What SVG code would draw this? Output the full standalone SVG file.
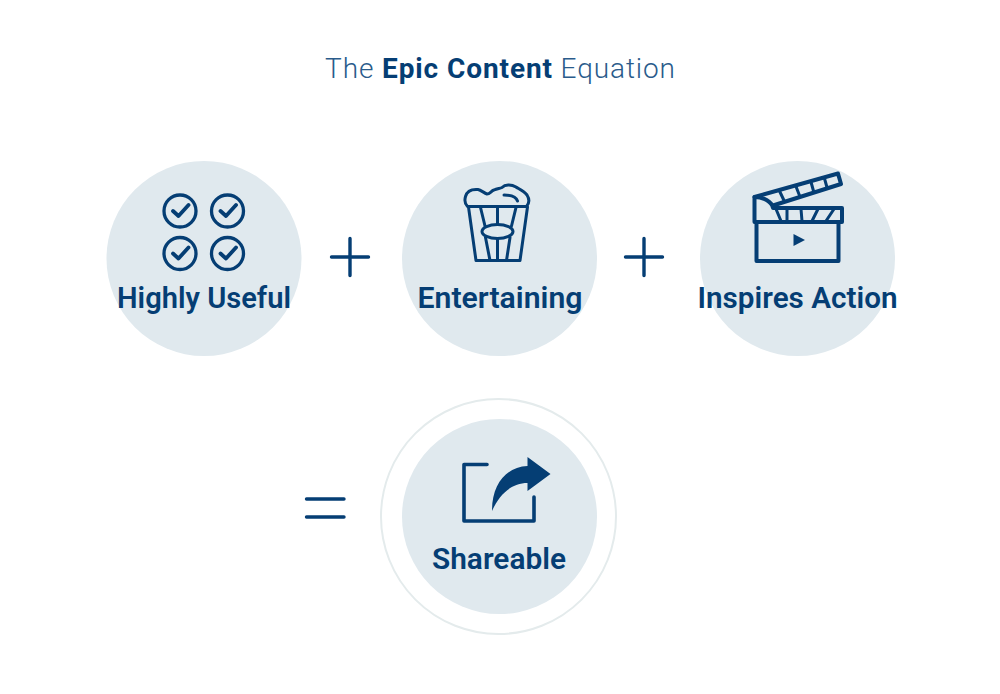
<svg xmlns="http://www.w3.org/2000/svg" width="1000" height="694" viewBox="0 0 1000 694">
<style>
.c{fill:#e0e9ee}
.l{fill:none;stroke:#053e74;stroke-linecap:round;stroke-linejoin:round}
.t{font-family:Roboto,"Liberation Sans",sans-serif;fill:#053e74;font-weight:600;font-size:29px;text-anchor:middle}
</style>
<rect width="1000" height="694" fill="#fff"/>
<text id="title" x="500" y="78" font-family="Roboto,'Liberation Sans',sans-serif" font-size="28" fill="#2a5b8b" font-weight="300" text-anchor="middle" textLength="350" lengthAdjust="spacing">The <tspan font-weight="700" fill="#053e74">Epic Content</tspan> Equation</text>
<g id="useful">
<circle class="c" cx="204" cy="258.500" r="97.500"/>
<g class="l" stroke-width="3.300">
<circle cx="180" cy="211" r="16"/><circle cx="227.500" cy="211" r="16"/><circle cx="180" cy="253.500" r="16"/><circle cx="227.500" cy="253.500" r="16"/>
<path stroke-width="3.800" d="M173 211l5.500 5 10-11M220.500 211l5.500 5 10-11M173 253.500l5.500 5 10-11M220.500 253.500l5.500 5 10-11"/>
</g>
<text class="t" x="204" y="308" textLength="174" lengthAdjust="spacingAndGlyphs">Highly Useful</text>
</g>
<g id="entertaining">
<circle class="c" cx="499.500" cy="258.500" r="97.500"/>
<g class="l" stroke-width="3">
<path d="M467.500 206.500C465 204 464.500 200 465.500 196.500C467 191 472 189 478 189.500C481 190 484 193 487 194C490 194 491 191 494 190C497 188.500 500 188.500 502 187.500C505 184.500 511 184 516 187C518 188.500 524 191 527 195C529.500 199 529.500 203 526.500 206.500Z"/>
<path d="M504 195C509 195 516 196 517.500 201"/>
<path d="M468.500 207L476 260.500H520L527.500 207"/>
<path d="M480.500 207.500L485 226M497.500 207.500V224.500M516 207.500L511.500 226M485.500 237.500L490 260.500M497.500 238.500V260.500M510 237.500L506.500 260.500"/>
<ellipse cx="497.500" cy="231.500" rx="15.500" ry="7"/>
</g>
<text class="t" x="500" y="308" textLength="165" lengthAdjust="spacingAndGlyphs">Entertaining</text>
</g>
<g id="action">
<circle class="c" cx="797.500" cy="258.500" r="97.500"/>
<g class="l" stroke-width="4">
<path d="M754.500 197L838 173.500L841 184L773 205.500"/>
<path d="M779.500 191L784 200.500M796 186.500L799.500 195.500M811 182L813.500 191M824.500 178.500L827 187.500" stroke-width="3"/>
<path d="M754.500 197V222H842V208H773C772 202 764 197 754.500 197Z"/>
<path d="M776 209L781 221M787 209V221M801 209L802 221M818 209L812 221M834 209L826 221" stroke-width="3"/>
<path d="M756.500 222V261H838.500V222"/>
</g>
<path d="M793.500 234L805 240L793.500 246Z" fill="#053e74"/>
<text class="t" x="797.500" y="308" textLength="200" lengthAdjust="spacingAndGlyphs">Inspires Action</text>
</g>
<g id="share">
<circle cx="498.500" cy="516.500" r="117.500" fill="#fff" stroke="#e4ebec" stroke-width="2"/>
<circle class="c" cx="499.500" cy="516.500" r="97.500"/>
<path class="l" stroke-width="3.600" d="M487 464.500H464V521H534V497"/>
<path d="M492 511C492 484 506 467 527.500 466V457L550.500 474L527.500 491V483C511 483 499 495 492 511Z" fill="#053e74"/>
<text class="t" x="499" y="569" textLength="134" lengthAdjust="spacingAndGlyphs">Shareable</text>
</g>
<g id="connectors" class="l" stroke-width="3.400">
<path d="M331.500 257H368.500M350 238.500V275.500M625.500 257H662.500M644 238.500V275.500"/>
<path d="M306.500 499H344M306.500 517H344"/>
</g>
</svg>
